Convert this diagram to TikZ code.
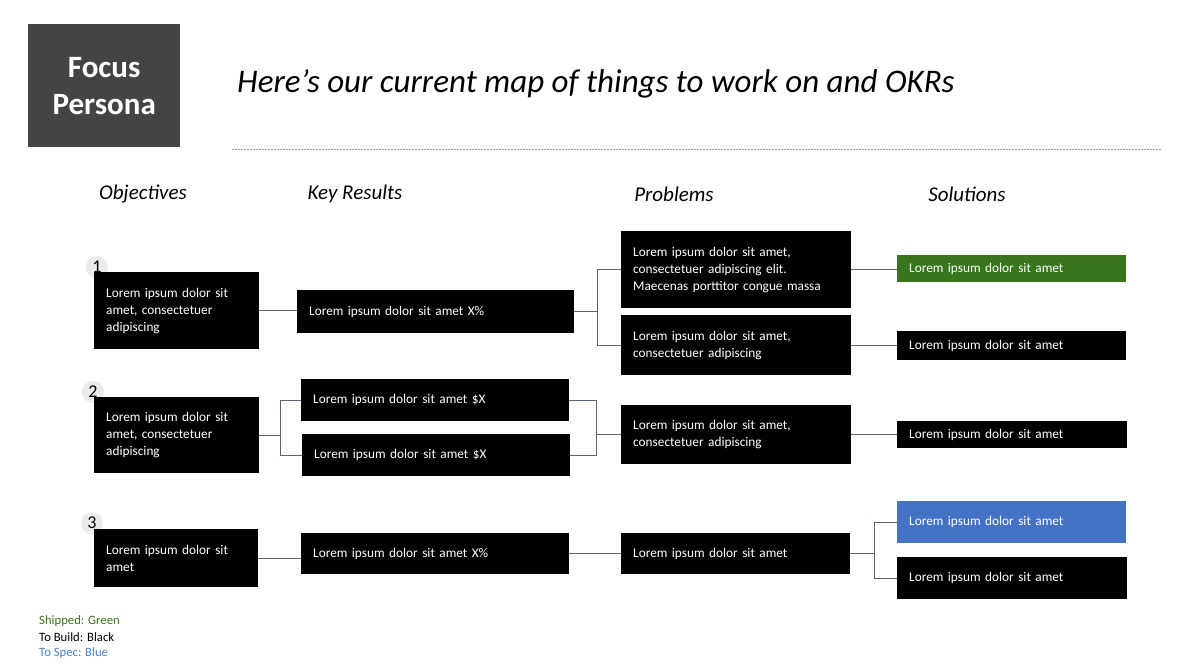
\documentclass[tikz,border=0pt]{standalone}
\usepackage{fontspec}
\setmainfont{Carlito}
\definecolor{persona}{HTML}{444444}
\definecolor{shipgreen}{HTML}{38761D}
\definecolor{specblue}{HTML}{4472C4}
\definecolor{legblue}{HTML}{4A86C8}
\definecolor{conn}{HTML}{5A6478}
\definecolor{dotline}{HTML}{9AA0AA}
\begin{document}
\begin{tikzpicture}[x=1pt,y=-1pt,
  box/.style={fill=black, text=white, anchor=north west, inner xsep=12pt, inner ysep=0pt,
    align=left, font=\fontsize{13.3}{17}\selectfont},
  numc/.style={circle, fill=black!8, inner sep=0pt, minimum size=22pt, font=\fontsize{18}{18}\selectfont},
  hdr/.style={font=\fontsize{21}{24}\selectfont\itshape},
  link/.style={draw=conn, line width=0.8pt},
  leg/.style={anchor=west, font=\fontsize{12.7}{13}\selectfont, inner sep=0pt}]
\useasboundingbox (0,0) rectangle (1178,668);
% header
\node[fill=persona, text=white, minimum width=152pt, minimum height=123pt, anchor=north west,
  align=center, font=\fontsize{31}{37}\selectfont\bfseries] (persona) at (28,24) {Focus\\Persona};
\node[anchor=west, inner sep=0pt, font=\fontsize{33}{36}\selectfont\itshape] (title) at (237,84)
  {Here’s our current map of things to work on and OKRs};
\coordinate (dl) at (232,150);
\coordinate (dr) at (1162,150);
\draw[dotline, line width=1pt, dash pattern=on 1.5pt off 1.5pt] (dl) -- (dr);
\node[hdr] (h1) at (143,194) {Objectives};
\node[hdr] (h2) at (355,194) {Key Results};
\node[hdr] (h3) at (674,194) {Problems};
\node[hdr] (h4) at (967,194) {Solutions};
% number circles
\node[numc] (n1) at (97,267) {1};
\node[numc] (n2) at (93,392) {2};
\node[numc] (n3) at (92,523) {3};
% row 1
\node[box, text width=141pt, minimum height=77pt] (o1) at (94,272) {Lorem ipsum dolor sit\\amet, consectetuer\\adipiscing};
\node[box, text width=253pt, minimum height=43pt] (k1) at (297,290) {Lorem ipsum dolor sit amet X\%};
\node[box, text width=206pt, minimum height=77pt] (p1a) at (621,231) {Lorem ipsum dolor sit amet,\\consectetuer adipiscing elit.\\Maecenas porttitor congue massa};
\node[box, text width=206pt, minimum height=60pt] (p1b) at (621,315) {Lorem ipsum dolor sit amet,\\consectetuer adipiscing};
\node[box, fill=shipgreen, text width=205pt, minimum height=27pt] (s1a) at (897,255) {Lorem ipsum dolor sit amet};
\node[box, text width=205pt, minimum height=29pt] (s1b) at (897,331) {Lorem ipsum dolor sit amet};
% row 2
\node[box, text width=141pt, minimum height=76pt] (o2) at (94,397) {Lorem ipsum dolor sit\\amet, consectetuer\\adipiscing};
\node[box, text width=244pt, minimum height=42pt] (k2a) at (301,379) {Lorem ipsum dolor sit amet \$X};
\node[box, text width=244pt, minimum height=42pt] (k2b) at (302,434) {Lorem ipsum dolor sit amet \$X};
\node[box, text width=206pt, minimum height=59pt] (p2) at (621,405) {Lorem ipsum dolor sit amet,\\consectetuer adipiscing};
\node[box, text width=206pt, minimum height=27pt] (s2) at (897,421) {Lorem ipsum dolor sit amet};
% row 3
\node[box, text width=140pt, minimum height=58pt] (o3) at (94,529) {Lorem ipsum dolor sit\\amet};
\node[box, text width=244pt, minimum height=41pt] (k3) at (301,533) {Lorem ipsum dolor sit amet X\%};
\node[box, text width=205pt, minimum height=41pt] (p3) at (621,533) {Lorem ipsum dolor sit amet};
\node[box, fill=specblue, text width=205pt, minimum height=42pt] (s3a) at (897,501) {Lorem ipsum dolor sit amet};
\node[box, text width=206pt, minimum height=42pt] (s3b) at (897,557) {Lorem ipsum dolor sit amet};
% connectors row 1
\draw[link] (o1.east) -- (o1.east -| k1.west);
\draw[link] (k1.east) -- ++(23,0) |- (p1a.west);
\draw[link] (k1.east) -- ++(23,0) |- (p1b.west);
\draw[link] (p1a.east) -- (p1a.east -| s1a.west);
\draw[link] (p1b.east) -- (p1b.east -| s1b.west);
% connectors row 2
\draw[link] (o2.east) -- ++(21,0) |- (k2a.west);
\draw[link] (o2.east) -- ++(21,0) |- (k2b.west);
\draw[link] (k2a.east) -- ++(27,0) |- (p2.west);
\draw[link] (k2b.east) -- ++(26,0) |- (p2.west);
\draw[link] (p2.east) -- (p2.east -| s2.west);
% connectors row 3
\draw[link] (o3.east) -- (o3.east -| k3.west);
\draw[link] (k3.east) -- (k3.east -| p3.west);
\draw[link] (p3.east) -- ++(24,0) |- (s3a.west);
\draw[link] (p3.east) -- ++(24,0) |- (s3b.west);
% legend
\node[leg, text=shipgreen] (l1) at (39,621) {Shipped: Green};
\node[leg] (l2) at (39,637) {To Build: Black};
\node[leg, text=legblue] (l3) at (39,653) {To Spec: Blue};
\end{tikzpicture}
\end{document}
